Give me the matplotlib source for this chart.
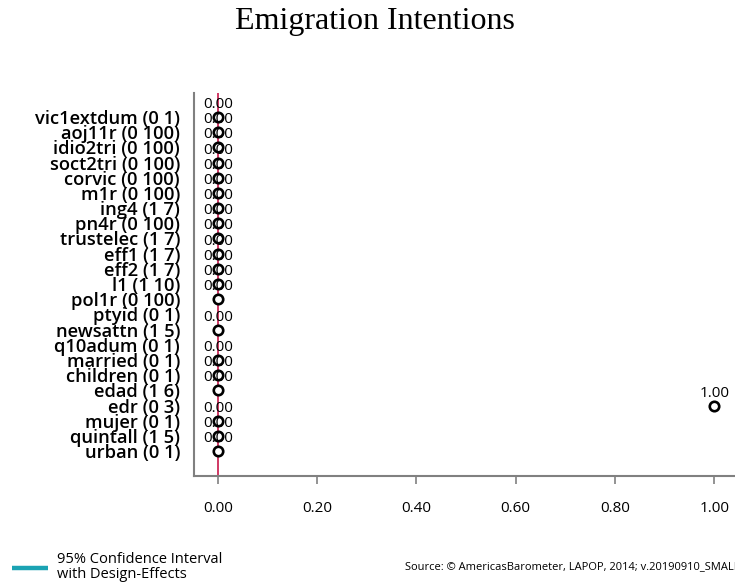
import numpy as np
import matplotlib
matplotlib.use("Agg")
import matplotlib.pyplot as plt
from matplotlib.lines import Line2D

variables = [
    "vic1extdum (0 1)", "aoj11r (0 100)", "idio2tri (0 100)", "soct2tri (0 100)",
    "corvic (0 100)", "m1r (0 100)", "ing4 (1 7)", "pn4r (0 100)",
    "trustelec (1 7)", "eff1 (1 7)", "eff2 (1 7)", "l1 (1 10)",
    "pol1r (0 100)", "ptyid (0 1)", "newsattn (1 5)", "q10adum (0 1)",
    "married (0 1)", "children (0 1)", "edad (1 6)", "edr (0 3)",
    "mujer (0 1)", "quintall (1 5)", "urban (0 1)",
]
coef = [
    0.00, 0.00, 0.00, 0.00,
    0.00, 0.00, 0.00, 0.00,
    0.00, 0.00, 0.00, 0.00,
    0.00, np.nan, 0.00, np.nan,
    0.00, 0.00, 0.00, 1.00,
    0.00, 0.00, 0.00,
]
ci_low = list(coef)
ci_high = list(coef)
xticks = [0.0, 0.2, 0.4, 0.6, 0.8, 1.0]

W, H = 735, 584
fig = plt.figure(figsize=(W / 100, H / 100), dpi=100)
ax = fig.add_axes([194 / W, (H - 476) / H, (W - 194) / W, (476 - 93) / H])

n = len(variables)
ypos = np.arange(n)
coef_arr = np.array(coef, dtype=float)
valid = ~np.isnan(coef_arr)

# zero reference line, confidence intervals, point estimates
ax.axvline(0, color="#c8174a", lw=1.2, zorder=1)
ax.hlines(ypos[valid], np.array(ci_low)[valid], np.array(ci_high)[valid],
          color="#1ba3b3", lw=3, zorder=2)
ax.plot(coef_arr[valid], ypos[valid], "o", ms=6.8, mfc="white", mec="black",
        mew=1.9, zorder=3, clip_on=False)

for y, v in zip(ypos, coef_arr):
    if np.isnan(v):
        continue
    ax.annotate(f"{v:.2f}", (v, y), xytext=(0, 9), textcoords="offset points",
                ha="center", va="center", fontsize=11, family="Open Sans",
                color="black", zorder=4)

ax.set_yticks(ypos)
ax.set_yticklabels(variables, family="Open Sans", fontsize=13.2,
                   fontweight="semibold", color="black")
ax.tick_params(axis="y", length=0, pad=10)
ax.set_ylim(n - 1 + 1.64, -1.58)

ax.set_xlim(-0.0484, 1.042)
ax.set_xticks(xticks)
ax.set_xticklabels([f"{t:.2f}" for t in xticks], family="Open Sans", fontsize=11)
ax.tick_params(axis="x", length=6, width=1.2, color="#808080", pad=12)

for side in ("top", "right"):
    ax.spines[side].set_visible(False)
for side in ("left", "bottom"):
    ax.spines[side].set_color("#808080")
    ax.spines[side].set_linewidth(1.5)

fig.text(375 / W, 1 - 21 / H, "Emigration Intentions", ha="center", va="center",
         family="Liberation Serif", fontsize=23, color="black")

fig.add_artist(Line2D([12 / W, 48 / W], [1 - 568 / H, 1 - 568 / H],
                      color="#1ba3b3", lw=3.2, solid_capstyle="butt"))
fig.text(57 / W, 1 - 567 / H, "95% Confidence Interval\nwith Design-Effects",
         ha="left", va="center", family="Open Sans", fontsize=10.5,
         linespacing=0.95, color="black")
fig.text(405 / W, 1 - 567 / H,
         "Source: \u00a9 AmericasBarometer, LAPOP, 2014; v.20190910_SMALL",
         ha="left", va="center", family="Open Sans", fontsize=8.0, color="black")

fig.savefig("out.png", dpi=100)
